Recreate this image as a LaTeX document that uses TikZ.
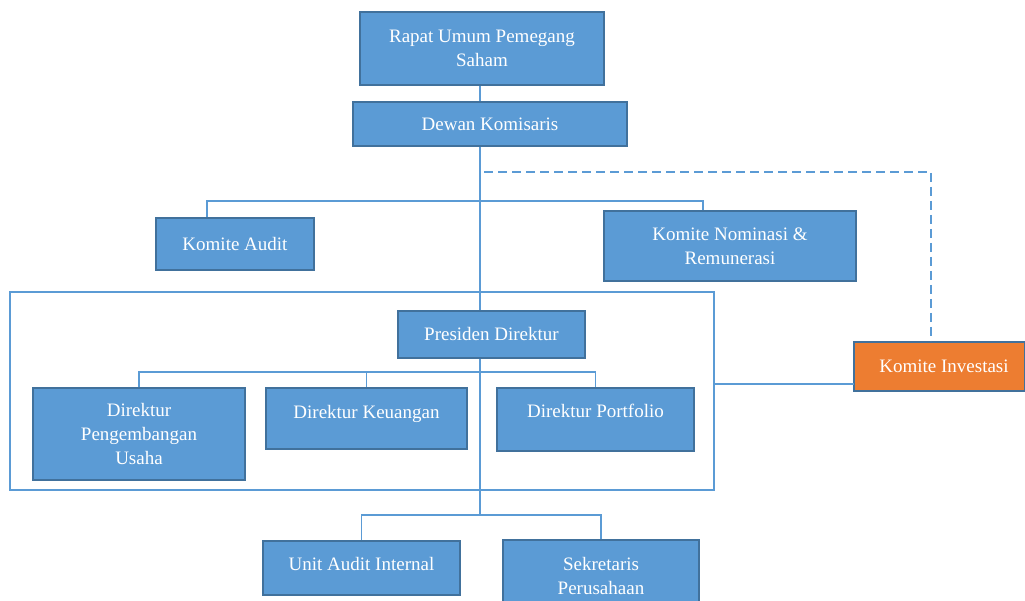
\documentclass[tikz,border=0pt]{standalone}
\usepackage{fontspec}
\setmainfont{Liberation Serif}
\usetikzlibrary{positioning}
\definecolor{boxfill}{HTML}{5B9BD5}
\definecolor{boxedge}{HTML}{41719C}
\definecolor{orgline}{HTML}{5B9BD5}
\definecolor{invfill}{HTML}{ED7D31}
\tikzstyle{unit} = [draw=boxedge, fill=boxfill, line width=2pt, text=white,
    align=center, inner sep=0pt, font=\fontsize{19}{24}\selectfont]
\tikzstyle{link} = [draw=orgline, line width=1.8pt]

\begin{document}
\begin{tikzpicture}[x=1pt, y=-1pt]
  \useasboundingbox (0,0) rectangle (1025,601);
  % Place nodes
  \node [unit, minimum width=244, minimum height=73] (rups) at (482,48.5)
  {Rapat Umum Pemegang\\Saham};
  \node [unit, minimum width=274, minimum height=44] (dewan) at (490,124) {Dewan Komisaris};
  \node [unit, minimum width=158, minimum height=52] (audit) at (235,244) {Komite Audit};
  \node [unit, minimum width=252, minimum height=70] (nominasi) at (730,246)
  {Komite Nominasi \&\\Remunerasi};
  \node [draw=orgline, line width=2pt, minimum width=704, minimum height=198] (direksi) at (362,391) {};
  \node [unit, minimum width=187, minimum height=47] (presdir) at (491.5,334.5) {Presiden Direktur};
  \node [unit, minimum width=212, minimum height=92] (pengembangan) at (139,434)
  {Direktur\\Pengembangan\\Usaha};
  \node [unit, minimum width=201, minimum height=61, text depth=14pt] (keuangan) at (366.5,418.5) {Direktur Keuangan};
  \node [unit, minimum width=197, minimum height=63, text depth=18pt] (portfolio) at (595.5,419.5) {Direktur Portfolio};
  \node [unit, fill=invfill, minimum width=171, minimum height=49] (investasi) at (939.5,366.5) {\hspace{9pt}Komite Investasi};
  \node [unit, minimum width=197, minimum height=54, text depth=9pt] (uai) at (361.5,568) {Unit Audit Internal};
  \node [unit, minimum width=196, minimum height=62] (sekper) at (601,571)
  {\rule{0pt}{23pt}Sekretaris\\Perusahaan};

  % Junctions
  \coordinate (hub) at (480,515);
  \coordinate (kbus) at (480,201);
  \coordinate (dbus) at (366,372);
  \coordinate (dashstart) at (484,172);
  \coordinate (invjoin) at (854,384);

  % Lines
  \draw[link] (rups.south -| hub) -- (dewan.north -| hub);
  \draw[link, line width=1.2pt] (dewan.south -| hub) -- (presdir.north -| hub);
  \draw[link] (presdir.south -| hub) -- (hub);
  \draw[link] ([xshift=-28]audit.north) |- (kbus) -| ([xshift=-27]nominasi.north);
  \draw[link] (pengembangan.north) |- (dbus) -| (portfolio.north);
  \draw[link] (keuangan.north) -- (keuangan.north |- dbus);
  \draw[link] (uai.north) |- (hub) -| (sekper.north);
  \draw[link] (direksi.east |- invjoin) -- (invjoin);
  \draw[link, dashed, line width=1.4pt, dash pattern=on 9pt off 5pt] (dashstart) -| ([xshift=-8.5]investasi.north);
\end{tikzpicture}
\end{document}
